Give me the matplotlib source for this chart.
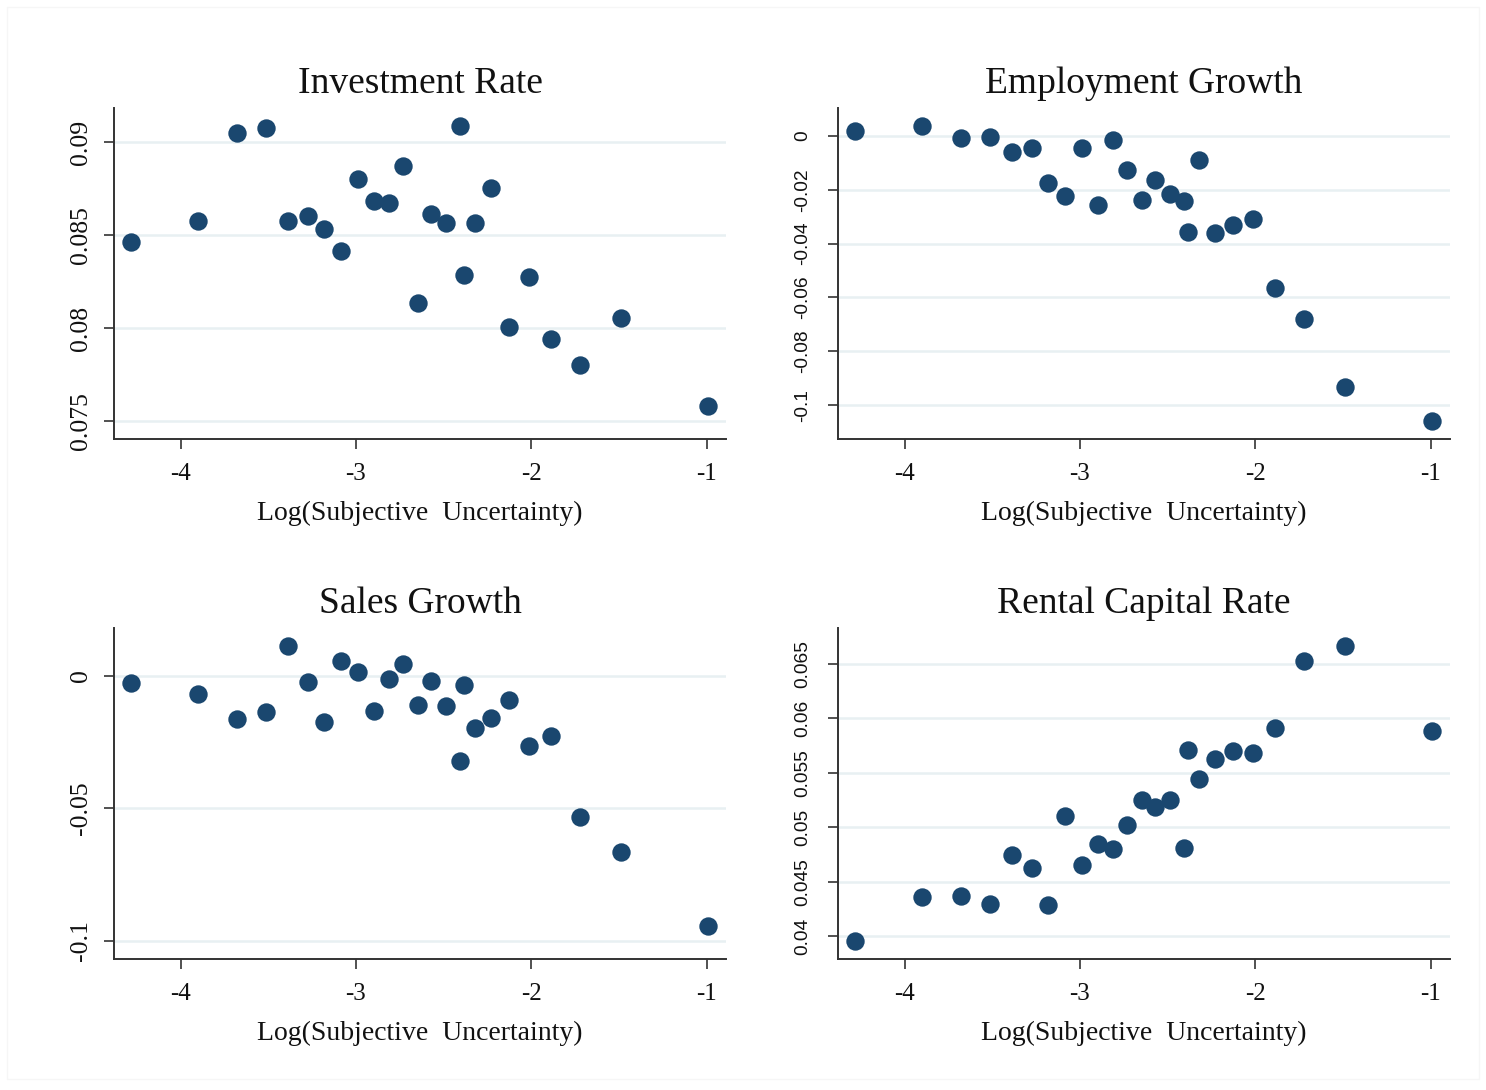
import matplotlib.pyplot as plt
from matplotlib.patches import Rectangle

# binned log subjective uncertainty (shared across panels)
log_unc = [-4.285, -3.903, -3.68, -3.515, -3.39, -3.276, -3.18, -3.083, -2.99,
           -2.9, -2.81, -2.733, -2.648, -2.573, -2.488, -2.408, -2.384, -2.322,
           -2.232, -2.128, -2.013, -1.888, -1.722, -1.488, -0.99]

investment_rate = [0.08462, 0.08575, 0.0905, 0.09075, 0.08575, 0.0860, 0.08532,
                   0.08414, 0.0880, 0.08683, 0.08672, 0.08871, 0.08134, 0.08613,
                   0.08565, 0.09086, 0.08285, 0.08565, 0.08753, 0.08005, 0.08274,
                   0.0794, 0.07801, 0.08054, 0.0758]

employment_growth = [0.0019, 0.0037, -0.0007, -0.0004, -0.0059, -0.0045, -0.0175,
                     -0.0223, -0.0045, -0.0257, -0.0015, -0.0126, -0.0238, -0.0164,
                     -0.0216, -0.0242, -0.0357, -0.0089, -0.0361, -0.0331, -0.0309,
                     -0.0565, -0.068, -0.0933, -0.106]

sales_growth = [-0.0026, -0.0068, -0.0162, -0.0136, 0.0113, -0.0023, -0.0174,
                0.0057, 0.0015, -0.0132, -0.0011, 0.0045, -0.0109, -0.0019,
                -0.0113, -0.0321, -0.0034, -0.0196, -0.0158, -0.0091, -0.0264,
                -0.0226, -0.0532, -0.0664, -0.0943]

rental_capital = [0.0395, 0.04358, 0.04367, 0.04294, 0.04745, 0.04625, 0.04285,
                  0.05103, 0.04653, 0.04846, 0.048, 0.0502, 0.0525, 0.05186,
                  0.0525, 0.04809, 0.05711, 0.05445, 0.05629, 0.05702, 0.05684,
                  0.05914, 0.06528, 0.06665, 0.05886]

titles = ['Investment Rate', 'Employment Growth', 'Sales Growth', 'Rental Capital Rate']
series = [investment_rate, employment_growth, sales_growth, rental_capital]
yticks = [[0.075, 0.08, 0.085, 0.09],
          [-0.1, -0.08, -0.06, -0.04, -0.02, 0],
          [-0.1, -0.05, 0],
          [0.04, 0.045, 0.05, 0.055, 0.06, 0.065]]
ytick_labels = [['0.075', '0.08', '0.085', '0.09'],
                ['-0.1', '-0.08', '-0.06', '-0.04', '-0.02', '0'],
                ['-0.1', '-0.05', '0'],
                ['0.04', '0.045', '0.05', '0.055', '0.06', '0.065']]
ylims = [(0.07403, 0.09183), (-0.1126, 0.0104), (-0.1068, 0.0181), (0.03789, 0.06831)]
xticks = [-4, -3, -2, -1]

W, H = 1486, 1090
fig = plt.figure(figsize=(W / 100, H / 100), dpi=100)
fig.patches.append(Rectangle((7 / W, 0.01), 1 - 14 / W, 1 - 0.016,
                             transform=fig.transFigure, fill=False,
                             edgecolor='#f6f6f6', linewidth=1))

# axes boxes in pixels: left, top, right, bottom
boxes = [(114, 108, 726, 439), (838, 108, 1450, 439),
         (114, 628, 726, 959), (838, 628, 1450, 959)]

serif = 'Liberation Serif'
sans = 'Liberation Sans'

for i, (l, t, r, b) in enumerate(boxes):
    ax = fig.add_axes([l / W, 1 - b / H, (r - l) / W, (b - t) / H])
    ax.scatter(log_unc, series[i], s=175, color='#1a476f', zorder=3, linewidths=0)
    ax.set_xlim(-4.38, -0.89)
    ax.set_ylim(*ylims[i])
    ax.set_xticks(xticks)
    ax.set_xticklabels([str(v) for v in xticks], fontfamily=serif, fontsize=18)
    ax.set_yticks(yticks[i])
    right = i % 2 == 1
    ax.set_yticklabels(ytick_labels[i], rotation=90, va='center',
                       fontfamily=sans if right else serif,
                       fontsize=13.8 if right else 18.5)
    for sp in ['top', 'right']:
        ax.spines[sp].set_visible(False)
    for sp in ['left', 'bottom']:
        ax.spines[sp].set_color('#333333')
        ax.spines[sp].set_linewidth(1.4)
    ax.tick_params(axis='both', direction='out', length=7, width=1.2,
                   color='#333333', labelcolor='#111111')
    ax.tick_params(axis='x', pad=10)
    ax.tick_params(axis='y', pad=12 if right else 9)
    ax.grid(axis='y', color='#e8f0f2', linewidth=1.8, zorder=0)
    ax.set_axisbelow(True)
    ax.set_title(titles[i], fontfamily=serif, fontsize=27, pad=11, color='#111111')
    ax.set_xlabel('Log(Subjective  Uncertainty)', fontfamily=serif, fontsize=20,
                  color='#111111', labelpad=12)

fig.savefig('out.png', dpi=100, facecolor='white')
